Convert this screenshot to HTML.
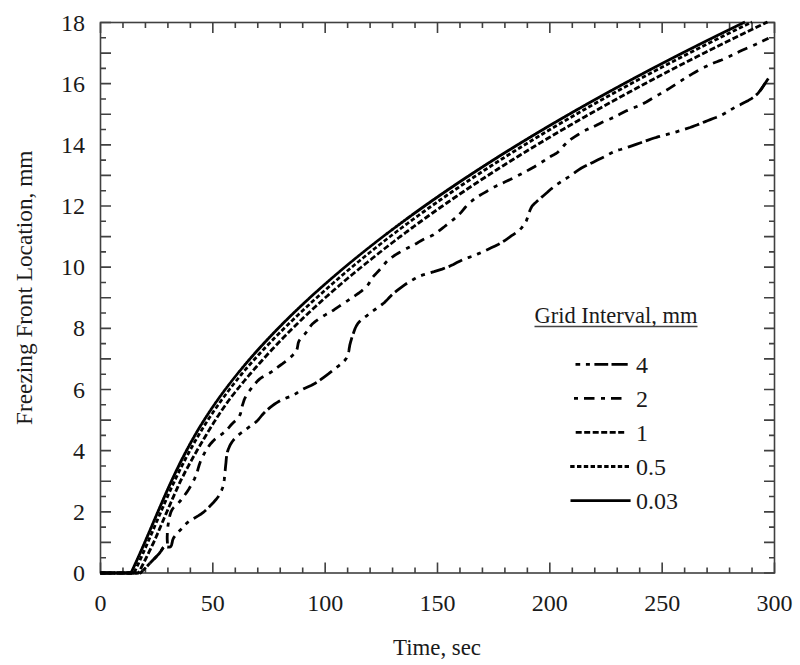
<!DOCTYPE html>
<html><head><meta charset="utf-8"><style>html,body{margin:0;padding:0;background:#fff;}svg{display:block;}</style></head>
<body><svg width="800" height="665" viewBox="0 0 800 665">
<rect width="800" height="665" fill="#fff"/>
<rect x="100.5" y="22.5" width="674.0" height="550.5" fill="none" stroke="#404040" stroke-width="1.6"/>
<path d="M100.50,573v-10.5M100.50,22.5v10.5M122.97,573v-5.5M122.97,22.5v5.5M145.43,573v-5.5M145.43,22.5v5.5M167.90,573v-5.5M167.90,22.5v5.5M190.37,573v-5.5M190.37,22.5v5.5M212.83,573v-10.5M212.83,22.5v10.5M235.30,573v-5.5M235.30,22.5v5.5M257.77,573v-5.5M257.77,22.5v5.5M280.23,573v-5.5M280.23,22.5v5.5M302.70,573v-5.5M302.70,22.5v5.5M325.17,573v-10.5M325.17,22.5v10.5M347.63,573v-5.5M347.63,22.5v5.5M370.10,573v-5.5M370.10,22.5v5.5M392.57,573v-5.5M392.57,22.5v5.5M415.03,573v-5.5M415.03,22.5v5.5M437.50,573v-10.5M437.50,22.5v10.5M459.97,573v-5.5M459.97,22.5v5.5M482.43,573v-5.5M482.43,22.5v5.5M504.90,573v-5.5M504.90,22.5v5.5M527.37,573v-5.5M527.37,22.5v5.5M549.83,573v-10.5M549.83,22.5v10.5M572.30,573v-5.5M572.30,22.5v5.5M594.77,573v-5.5M594.77,22.5v5.5M617.23,573v-5.5M617.23,22.5v5.5M639.70,573v-5.5M639.70,22.5v5.5M662.17,573v-10.5M662.17,22.5v10.5M684.63,573v-5.5M684.63,22.5v5.5M707.10,573v-5.5M707.10,22.5v5.5M729.57,573v-5.5M729.57,22.5v5.5M752.03,573v-5.5M752.03,22.5v5.5M774.50,573v-10.5M774.50,22.5v10.5M100.5,573.00h10.5M774.5,573.00h-10.5M100.5,557.71h5.5M774.5,557.71h-5.5M100.5,542.42h10.5M774.5,542.42h-10.5M100.5,527.12h5.5M774.5,527.12h-5.5M100.5,511.83h10.5M774.5,511.83h-10.5M100.5,496.54h5.5M774.5,496.54h-5.5M100.5,481.25h10.5M774.5,481.25h-10.5M100.5,465.96h5.5M774.5,465.96h-5.5M100.5,450.67h10.5M774.5,450.67h-10.5M100.5,435.38h5.5M774.5,435.38h-5.5M100.5,420.08h10.5M774.5,420.08h-10.5M100.5,404.79h5.5M774.5,404.79h-5.5M100.5,389.50h10.5M774.5,389.50h-10.5M100.5,374.21h5.5M774.5,374.21h-5.5M100.5,358.92h10.5M774.5,358.92h-10.5M100.5,343.62h5.5M774.5,343.62h-5.5M100.5,328.33h10.5M774.5,328.33h-10.5M100.5,313.04h5.5M774.5,313.04h-5.5M100.5,297.75h10.5M774.5,297.75h-10.5M100.5,282.46h5.5M774.5,282.46h-5.5M100.5,267.17h10.5M774.5,267.17h-10.5M100.5,251.88h5.5M774.5,251.88h-5.5M100.5,236.58h10.5M774.5,236.58h-10.5M100.5,221.29h5.5M774.5,221.29h-5.5M100.5,206.00h10.5M774.5,206.00h-10.5M100.5,190.71h5.5M774.5,190.71h-5.5M100.5,175.42h10.5M774.5,175.42h-10.5M100.5,160.12h5.5M774.5,160.12h-5.5M100.5,144.83h10.5M774.5,144.83h-10.5M100.5,129.54h5.5M774.5,129.54h-5.5M100.5,114.25h10.5M774.5,114.25h-10.5M100.5,98.96h5.5M774.5,98.96h-5.5M100.5,83.67h10.5M774.5,83.67h-10.5M100.5,68.38h5.5M774.5,68.38h-5.5M100.5,53.08h10.5M774.5,53.08h-10.5M100.5,37.79h5.5M774.5,37.79h-5.5M100.5,22.50h10.5M774.5,22.50h-10.5" stroke="#404040" stroke-width="1.6" fill="none"/>
<path d="M100.0,573.0 L140.5,573.0 L143.7,569.7 L147.0,566.3 L150.1,563.0 L153.0,560.0 L155.0,558.0 L156.8,556.1 L158.5,554.3 L160.0,552.5 L161.0,551.0 L161.9,549.4 L162.8,548.0 L164.0,547.0 L165.5,546.7 L167.3,547.0 L169.1,547.2 L170.5,546.8 L171.5,545.2 L172.1,542.9 L172.6,540.3 L173.6,537.8 L175.8,534.8 L178.7,531.7 L181.6,528.8 L184.0,526.4 L184.9,525.3 L185.6,524.4 L186.4,523.6 L187.4,522.6 L190.3,520.5 L194.2,518.2 L198.1,515.9 L201.5,513.7 L203.3,512.3 L204.9,511.0 L206.4,509.6 L208.0,508.0 L210.5,505.5 L213.2,502.7 L215.8,499.8 L218.0,497.0 L219.4,494.7 L220.7,492.3 L221.7,490.1 L222.5,488.0 L222.9,486.7 L223.3,485.6 L223.5,484.4 L223.8,483.0 L224.3,479.4 L224.7,475.0 L225.2,470.4 L225.6,466.0 L226.0,462.3 L226.3,458.7 L226.7,455.3 L227.4,452.0 L228.3,449.3 L229.4,446.7 L230.6,444.2 L232.0,442.0 L233.3,440.2 L234.8,438.6 L236.3,437.1 L238.0,435.5 L240.2,433.6 L242.7,431.8 L245.2,429.9 L247.7,428.1 L250.0,426.4 L252.3,424.8 L254.6,423.2 L256.7,421.4 L258.5,419.5 L260.1,417.5 L261.7,415.5 L263.5,413.5 L265.6,411.4 L267.9,409.4 L270.2,407.4 L272.5,405.6 L274.7,404.0 L276.9,402.6 L279.1,401.2 L281.5,399.9 L284.2,398.7 L287.1,397.6 L290.1,396.6 L292.8,395.4 L295.1,394.1 L297.3,392.7 L299.4,391.2 L301.8,389.8 L304.9,388.2 L308.2,386.7 L311.6,385.2 L314.8,383.5 L317.7,381.7 L320.6,379.7 L323.4,377.6 L326.1,375.6 L328.7,373.7 L331.2,371.7 L333.7,369.7 L336.2,367.7 L338.7,365.8 L341.1,363.9 L343.4,361.9 L345.3,359.8 L346.5,357.9 L347.3,355.9 L348.0,353.9 L348.6,351.9 L349.0,350.2 L349.2,348.6 L349.5,346.9 L349.8,345.1 L350.5,342.4 L351.3,339.6 L352.2,336.6 L353.2,333.8 L354.1,331.2 L355.1,328.5 L356.3,326.0 L357.7,323.7 L359.6,321.5 L361.9,319.5 L364.3,317.6 L366.7,315.8 L368.9,314.0 L371.2,312.3 L373.4,310.7 L375.7,309.0 L378.0,307.3 L380.3,305.7 L382.6,304.0 L384.7,302.3 L386.4,300.6 L388.0,298.9 L389.5,297.2 L391.3,295.4 L393.9,293.1 L396.9,290.7 L399.9,288.4 L402.6,286.4 L404.3,285.1 L405.9,284.0 L407.5,283.0 L409.3,281.9 L411.6,280.5 L414.1,279.0 L416.7,277.5 L419.5,276.2 L422.9,274.9 L426.6,273.9 L430.3,272.8 L434.1,271.7 L438.1,270.4 L442.1,269.1 L446.0,267.6 L449.9,266.1 L453.4,264.4 L456.9,262.6 L460.2,260.9 L463.5,259.3 L466.3,258.2 L469.1,257.3 L471.9,256.4 L474.7,255.3 L478.0,253.9 L481.4,252.4 L484.9,250.8 L488.3,249.2 L491.7,247.6 L495.2,245.9 L498.6,244.2 L501.8,242.4 L504.4,240.8 L506.9,239.1 L509.3,237.4 L511.6,235.7 L513.7,234.3 L515.7,233.0 L517.7,231.7 L519.5,230.1 L521.4,228.1 L523.2,225.8 L524.9,223.4 L526.2,221.1 L526.9,219.4 L527.5,217.7 L527.9,216.0 L528.5,214.3 L529.2,212.3 L530.0,210.2 L530.9,208.2 L531.9,206.4 L533.1,204.9 L534.5,203.5 L536.0,202.2 L537.5,200.8 L539.4,199.1 L541.4,197.4 L543.4,195.7 L545.4,194.0 L547.4,192.3 L549.3,190.5 L551.3,188.8 L553.3,187.2 L555.2,185.7 L557.2,184.3 L559.2,183.0 L561.2,181.6 L563.4,180.2 L565.6,178.8 L567.9,177.4 L570.2,175.9 L572.9,174.0 L575.7,171.9 L578.6,169.9 L581.5,168.0 L584.3,166.5 L587.1,165.1 L590.0,163.8 L592.8,162.4 L595.6,161.0 L598.5,159.6 L601.3,158.2 L604.1,156.8 L607.0,155.3 L609.8,153.8 L612.7,152.3 L615.3,151.1 L617.1,150.4 L618.8,149.9 L620.6,149.5 L622.5,148.9 L625.6,147.9 L628.9,146.8 L632.5,145.6 L636.0,144.4 L640.0,143.0 L644.1,141.5 L648.1,140.1 L651.8,138.8 L654.2,138.0 L656.4,137.4 L658.5,136.7 L660.8,136.1 L663.5,135.4 L666.2,134.7 L669.0,133.9 L672.0,133.1 L676.4,131.8 L681.1,130.4 L685.8,128.9 L690.0,127.5 L692.5,126.6 L694.6,125.8 L696.8,125.0 L699.0,124.1 L701.7,123.0 L704.6,121.9 L707.4,120.7 L710.3,119.6 L713.1,118.5 L715.9,117.5 L718.7,116.4 L721.5,115.1 L724.9,113.3 L728.4,111.2 L731.9,109.1 L735.0,107.3 L737.0,106.3 L738.7,105.4 L740.5,104.6 L742.4,103.6 L745.3,102.1 L748.4,100.4 L751.5,98.6 L754.1,96.8 L755.7,95.4 L757.2,94.1 L758.5,92.7 L759.7,91.2 L760.9,89.7 L761.9,88.2 L763.0,86.6 L764.0,85.0 L765.1,83.4 L766.2,81.8 L767.2,80.1 L768.3,78.5" fill="none" stroke="#000" stroke-width="2.8" stroke-linejoin="round" stroke-dasharray="15,4,15,6,4,6,4,6" stroke-dashoffset="0"/>
<path d="M759.7,91.2 L764,85 L768.3,78.5" fill="none" stroke="#000" stroke-width="2.8" stroke-linejoin="round"/>
<path d="M100.0,573.0 L140.5,573.0 L143.7,569.7 L147.0,566.3 L150.1,563.0 L153.0,560.0 L155.0,558.0 L156.8,556.1 L158.5,554.3 L160.0,552.5 L161.1,551.0 L162.1,549.5 L163.0,548.1 L164.0,547.0 L164.8,546.6 L165.6,546.3 L166.4,546.0 L167.0,545.5 L167.4,544.3 L167.4,542.6 L167.3,540.8 L167.2,539.0 L167.2,536.9 L167.3,534.7 L167.3,532.4 L167.5,530.0 L167.9,526.3 L168.5,522.3 L169.2,518.3 L170.0,515.0 L170.5,513.3 L171.0,511.8 L171.7,510.4 L172.5,509.0 L173.7,507.5 L175.2,506.1 L176.8,504.7 L178.5,503.0 L181.0,500.0 L183.7,496.4 L186.5,492.7 L188.9,489.0 L190.9,485.6 L192.8,482.1 L194.6,478.6 L196.1,475.1 L197.3,471.7 L198.2,468.3 L199.2,465.0 L200.4,461.6 L202.0,458.0 L203.8,454.4 L205.7,450.9 L207.7,447.7 L209.4,445.4 L211.1,443.2 L212.9,441.2 L214.9,439.3 L217.2,437.4 L219.7,435.7 L222.2,433.9 L224.5,432.1 L226.4,430.2 L228.2,428.3 L229.9,426.3 L231.7,424.3 L233.7,422.3 L235.9,420.3 L237.9,418.2 L239.5,416.0 L240.5,413.6 L241.1,411.1 L241.6,408.5 L242.2,406.0 L242.9,403.8 L243.6,401.6 L244.3,399.5 L245.3,397.4 L246.6,395.0 L248.2,392.6 L249.9,390.2 L251.7,387.9 L253.6,385.5 L255.5,383.2 L257.6,380.9 L259.8,378.9 L262.2,377.2 L264.7,375.8 L267.3,374.4 L269.7,373.0 L271.8,371.6 L273.8,370.1 L275.8,368.6 L277.8,367.1 L280.0,365.5 L282.3,363.9 L284.6,362.2 L286.9,360.4 L289.5,358.2 L292.2,355.7 L294.6,353.2 L296.5,350.6 L297.3,348.3 L297.7,346.0 L298.1,343.7 L298.7,341.6 L299.6,340.0 L300.7,338.6 L301.9,337.3 L303.0,336.0 L303.9,334.9 L304.9,333.9 L305.8,332.8 L306.8,331.6 L308.1,329.8 L309.4,327.7 L310.9,325.7 L312.6,323.7 L315.1,321.6 L318.0,319.5 L321.0,317.6 L323.8,315.8 L325.8,314.6 L327.8,313.5 L329.7,312.5 L331.7,311.3 L334.2,309.7 L336.8,307.9 L339.4,306.2 L341.9,304.5 L343.8,303.2 L345.6,302.0 L347.3,300.9 L349.2,299.6 L351.6,298.0 L354.0,296.4 L356.5,294.7 L358.9,293.0 L361.1,291.3 L363.3,289.5 L365.4,287.7 L367.3,285.7 L368.8,283.7 L370.0,281.6 L371.3,279.4 L372.7,277.3 L374.5,275.2 L376.5,273.1 L378.5,271.0 L380.5,268.9 L382.3,266.8 L384.0,264.6 L385.8,262.5 L387.7,260.5 L389.7,258.8 L391.8,257.3 L394.0,255.8 L396.2,254.4 L398.5,253.0 L401.0,251.6 L403.4,250.3 L405.8,249.0 L408.1,247.8 L410.3,246.7 L412.6,245.6 L414.8,244.4 L416.9,243.2 L419.0,241.9 L421.0,240.7 L423.2,239.5 L425.7,238.3 L428.3,237.2 L431.0,236.0 L433.5,234.7 L435.8,233.2 L438.1,231.5 L440.3,229.8 L442.5,228.1 L444.6,226.5 L446.7,224.8 L448.8,223.2 L450.9,221.5 L453.0,219.8 L455.2,218.0 L457.3,216.2 L459.3,214.3 L461.3,212.1 L463.2,209.8 L465.1,207.5 L467.1,205.3 L469.1,203.3 L471.2,201.5 L473.4,199.7 L475.6,198.0 L477.8,196.5 L480.0,195.2 L482.3,193.9 L484.6,192.6 L487.0,191.2 L489.3,189.7 L491.8,188.3 L494.3,186.9 L497.3,185.4 L500.5,184.0 L503.7,182.6 L506.9,181.1 L510.1,179.6 L513.2,178.0 L516.4,176.4 L519.6,174.7 L523.1,172.9 L526.8,171.0 L530.4,169.0 L534.0,167.0 L537.7,164.7 L541.5,162.3 L545.2,159.9 L548.6,157.7 L551.0,156.3 L553.3,155.1 L555.5,153.8 L557.7,152.3 L560.0,150.1 L562.2,147.6 L564.4,145.0 L566.7,142.7 L568.9,140.9 L571.1,139.2 L573.4,137.6 L575.7,136.1 L577.9,134.7 L580.2,133.3 L582.4,131.9 L584.7,130.7 L587.0,129.6 L589.3,128.5 L591.5,127.5 L593.8,126.5 L595.9,125.5 L597.9,124.4 L600.0,123.4 L602.2,122.3 L604.9,121.1 L607.7,119.9 L610.6,118.7 L613.5,117.4 L616.8,115.8 L620.1,114.1 L623.5,112.3 L627.0,110.6 L630.9,108.9 L634.9,107.3 L638.9,105.7 L642.8,103.9 L646.3,102.0 L649.6,100.0 L653.0,98.0 L656.3,96.0 L659.7,94.1 L663.0,92.1 L666.4,90.2 L669.8,88.1 L673.7,85.6 L677.7,83.0 L681.7,80.4 L685.5,78.0 L688.4,76.2 L691.1,74.6 L693.9,72.9 L696.8,71.3 L700.6,69.2 L704.7,67.1 L708.8,65.1 L712.5,63.4 L714.8,62.5 L717.0,61.7 L719.1,60.9 L721.5,60.0 L725.6,58.1 L730.3,55.9 L735.0,53.7 L739.4,51.6 L742.7,50.1 L745.7,48.8 L748.8,47.4 L752.0,46.0 L756.0,44.2 L760.1,42.2 L764.3,40.2 L768.5,38.2" fill="none" stroke="#000" stroke-width="2.8" stroke-linejoin="round" stroke-dasharray="10.5,6.5,4,6" stroke-dashoffset="0"/>
<path d="M100.5,573.0 L138.5,573.0 L139.0,572.0 L139.6,571.0 L140.1,570.0 L140.6,569.0 L141.1,568.0 L141.6,567.0 L142.1,566.0 L142.6,565.0 L143.1,564.0 L143.6,563.0 L144.1,562.0 L144.6,561.0 L145.1,560.0 L145.6,559.0 L146.1,558.0 L146.6,557.0 L147.1,556.0 L147.6,555.0 L148.1,554.0 L148.6,553.0 L149.0,552.0 L149.5,551.0 L150.0,550.0 L150.5,549.0 L151.0,548.0 L151.5,547.0 L151.9,546.0 L152.4,545.0 L152.9,544.0 L153.4,543.0 L153.9,542.0 L154.3,541.0 L154.8,540.0 L155.2,539.0 L155.7,538.0 L156.1,537.0 L156.5,536.0 L157.0,535.0 L157.4,534.0 L157.8,533.0 L158.3,532.0 L158.7,531.0 L159.1,530.0 L159.5,529.0 L160.0,528.0 L160.4,527.0 L160.8,526.0 L161.2,525.0 L161.7,524.0 L162.1,523.0 L162.5,522.0 L162.9,521.0 L163.4,520.0 L163.8,519.0 L164.2,518.0 L164.7,517.0 L165.1,516.0 L165.5,515.0 L165.9,514.0 L166.4,513.0 L166.8,512.0 L167.2,511.0 L167.7,510.0 L168.1,509.0 L168.5,508.0 L169.0,507.0 L169.4,506.0 L169.8,505.0 L170.3,504.0 L170.7,503.0 L171.1,502.0 L171.6,501.0 L172.0,500.0 L172.4,499.0 L172.9,498.0 L173.3,497.0 L173.8,496.0 L174.2,495.0 L174.6,494.0 L175.1,493.0 L175.5,492.0 L176.0,491.0 L176.4,490.0 L176.9,489.0 L177.3,488.0 L177.8,487.0 L178.2,486.0 L178.7,485.0 L179.1,484.0 L179.6,483.0 L180.1,482.0 L180.5,481.0 L181.0,480.0 L181.5,479.0 L182.0,478.0 L182.5,477.0 L183.1,476.0 L183.6,475.0 L184.1,474.0 L184.6,473.0 L185.1,472.0 L185.7,471.0 L186.2,470.0 L186.7,469.0 L187.3,468.0 L187.8,467.0 L188.4,466.0 L188.9,465.0 L189.4,464.0 L190.0,463.0 L190.5,462.0 L191.1,461.0 L191.6,460.0 L192.2,459.0 L192.7,458.0 L193.3,457.0 L193.9,456.0 L194.4,455.0 L195.0,454.0 L195.6,453.0 L196.2,452.0 L196.7,451.0 L197.3,450.0 L197.9,449.0 L198.5,448.0 L199.1,447.0 L199.7,446.0 L200.2,445.0 L200.8,444.0 L201.4,443.0 L202.0,442.0 L202.6,441.0 L203.3,440.0 L203.8,439.0 L204.4,438.0 L205.0,437.0 L205.6,436.0 L206.2,435.0 L206.8,434.0 L207.3,433.0 L207.9,432.0 L208.5,431.0 L209.2,430.0 L209.8,429.0 L210.4,428.0 L211.0,427.0 L211.6,426.0 L212.2,425.0 L212.9,424.0 L213.5,423.0 L214.1,422.0 L214.8,421.0 L215.4,420.0 L216.0,419.0 L216.7,418.0 L217.3,417.0 L218.0,416.0 L218.7,415.0 L219.3,414.0 L220.0,413.0 L220.7,412.0 L221.4,411.0 L222.0,410.0 L222.7,409.0 L223.4,408.0 L224.1,407.0 L224.8,406.0 L225.5,405.0 L226.2,404.0 L226.9,403.0 L227.6,402.0 L228.3,401.0 L229.1,400.0 L229.8,399.0 L230.6,398.0 L231.4,397.0 L232.1,396.0 L232.9,395.0 L233.7,394.0 L234.5,393.0 L235.3,392.0 L236.1,391.0 L236.8,390.0 L237.6,389.0 L238.5,388.0 L239.3,387.0 L240.1,386.0 L240.9,385.0 L241.7,384.0 L242.5,383.0 L243.4,382.0 L244.2,381.0 L245.0,380.0 L245.9,379.0 L246.7,378.0 L247.5,377.0 L248.4,376.0 L249.2,375.0 L250.1,374.0 L251.0,373.0 L251.8,372.0 L252.7,371.0 L253.6,370.0 L254.4,369.0 L255.3,368.0 L256.2,367.0 L257.1,366.0 L258.0,365.0 L258.9,364.0 L259.8,363.0 L260.7,362.0 L261.6,361.0 L262.5,360.0 L263.4,359.0 L264.3,358.0 L265.2,357.0 L266.1,356.0 L267.0,355.0 L267.9,354.0 L268.8,353.0 L269.8,352.0 L270.7,351.0 L271.6,350.0 L272.5,349.0 L273.5,348.0 L274.4,347.0 L275.4,346.0 L276.3,345.0 L277.3,344.0 L278.2,343.0 L279.2,342.0 L280.1,341.0 L281.1,340.0 L282.1,339.0 L283.0,338.0 L284.0,337.0 L285.0,336.0 L286.0,335.0 L287.0,334.0 L287.9,333.0 L288.9,332.0 L289.9,331.0 L290.9,330.0 L291.9,329.0 L293.0,328.0 L294.0,327.0 L295.0,326.0 L296.0,325.0 L297.0,324.0 L298.1,323.0 L299.1,322.0 L300.1,321.0 L301.2,320.0 L302.2,319.0 L303.2,318.0 L304.3,317.0 L305.3,316.0 L306.4,315.0 L307.5,314.0 L308.5,313.0 L309.6,312.0 L310.7,311.0 L311.7,310.0 L312.8,309.0 L313.9,308.0 L315.0,307.0 L316.1,306.0 L317.2,305.0 L318.3,304.0 L319.4,303.0 L320.5,302.0 L321.6,301.0 L322.7,300.0 L323.8,299.0 L324.9,298.0 L326.0,297.0 L327.2,296.0 L328.3,295.0 L329.4,294.0 L330.6,293.0 L331.7,292.0 L332.9,291.0 L334.0,290.0 L335.2,289.0 L336.3,288.0 L337.5,287.0 L338.7,286.0 L339.8,285.0 L341.0,284.0 L342.2,283.0 L343.4,282.0 L344.5,281.0 L345.7,280.0 L346.9,279.0 L348.1,278.0 L349.3,277.0 L350.5,276.0 L351.7,275.0 L352.9,274.0 L354.1,273.0 L355.4,272.0 L356.6,271.0 L357.8,270.0 L359.0,269.0 L360.2,268.0 L361.5,267.0 L362.7,266.0 L364.0,265.0 L365.2,264.0 L366.4,263.0 L367.7,262.0 L368.9,261.0 L370.2,260.0 L371.5,259.0 L372.7,258.0 L374.0,257.0 L375.2,256.0 L376.5,255.0 L377.8,254.0 L379.0,253.0 L380.3,252.0 L381.6,251.0 L382.8,250.0 L384.1,249.0 L385.4,248.0 L386.7,247.0 L388.0,246.0 L389.3,245.0 L390.6,244.0 L391.9,243.0 L393.2,242.0 L394.5,241.0 L395.8,240.0 L397.1,239.0 L398.4,238.0 L399.7,237.0 L401.1,236.0 L402.4,235.0 L403.7,234.0 L405.1,233.0 L406.4,232.0 L407.8,231.0 L409.1,230.0 L410.4,229.0 L411.8,228.0 L413.2,227.0 L414.5,226.0 L415.9,225.0 L417.2,224.0 L418.6,223.0 L420.0,222.0 L421.4,221.0 L422.8,220.0 L424.1,219.0 L425.5,218.0 L426.9,217.0 L428.3,216.0 L429.7,215.0 L431.1,214.0 L432.5,213.0 L433.9,212.0 L435.3,211.0 L436.8,210.0 L438.2,209.0 L439.6,208.0 L441.0,207.0 L442.5,206.0 L443.9,205.0 L445.3,204.0 L446.8,203.0 L448.2,202.0 L449.7,201.0 L451.1,200.0 L452.6,199.0 L454.0,198.0 L455.5,197.0 L457.0,196.0 L458.4,195.0 L459.9,194.0 L461.4,193.0 L462.9,192.0 L464.4,191.0 L465.8,190.0 L467.3,189.0 L468.8,188.0 L470.3,187.0 L471.8,186.0 L473.3,185.0 L474.8,184.0 L476.4,183.0 L477.9,182.0 L479.4,181.0 L480.9,180.0 L482.4,179.0 L484.0,178.0 L485.5,177.0 L487.0,176.0 L488.6,175.0 L490.1,174.0 L491.7,173.0 L493.2,172.0 L494.8,171.0 L496.4,170.0 L497.9,169.0 L499.5,168.0 L501.1,167.0 L502.7,166.0 L504.3,165.0 L505.8,164.0 L507.4,163.0 L509.0,162.0 L510.6,161.0 L512.2,160.0 L513.8,159.0 L515.4,158.0 L517.1,157.0 L518.7,156.0 L520.3,155.0 L521.9,154.0 L523.5,153.0 L525.2,152.0 L526.8,151.0 L528.4,150.0 L530.1,149.0 L531.7,148.0 L533.4,147.0 L535.0,146.0 L536.7,145.0 L538.3,144.0 L540.0,143.0 L541.7,142.0 L543.3,141.0 L545.0,140.0 L546.7,139.0 L548.4,138.0 L550.1,137.0 L551.7,136.0 L553.4,135.0 L555.1,134.0 L556.8,133.0 L558.5,132.0 L560.2,131.0 L561.9,130.0 L563.7,129.0 L565.4,128.0 L567.1,127.0 L568.8,126.0 L570.5,125.0 L572.3,124.0 L574.0,123.0 L575.7,122.0 L577.5,121.0 L579.2,120.0 L581.0,119.0 L582.7,118.0 L584.5,117.0 L586.2,116.0 L588.0,115.0 L589.8,114.0 L591.5,113.0 L593.3,112.0 L595.1,111.0 L596.9,110.0 L598.7,109.0 L600.5,108.0 L602.2,107.0 L604.0,106.0 L605.8,105.0 L607.6,104.0 L609.4,103.0 L611.3,102.0 L613.1,101.0 L614.9,100.0 L616.7,99.0 L618.5,98.0 L620.3,97.0 L622.2,96.0 L624.0,95.0 L625.8,94.0 L627.7,93.0 L629.5,92.0 L631.4,91.0 L633.2,90.0 L635.1,89.0 L636.9,88.0 L638.8,87.0 L640.6,86.0 L642.5,85.0 L644.4,84.0 L646.3,83.0 L648.1,82.0 L650.0,81.0 L651.9,80.0 L653.8,79.0 L655.7,78.0 L657.6,77.0 L659.5,76.0 L661.4,75.0 L663.3,74.0 L665.2,73.0 L667.1,72.0 L669.0,71.0 L671.0,70.0 L672.9,69.0 L674.8,68.0 L676.7,67.0 L678.7,66.0 L680.6,65.0 L682.6,64.0 L684.5,63.0 L686.5,62.0 L688.4,61.0 L690.4,60.0 L692.3,59.0 L694.3,58.0 L696.3,57.0 L698.2,56.0 L700.2,55.0 L702.2,54.0 L704.2,53.0 L706.2,52.0 L708.2,51.0 L710.2,50.0 L712.2,49.0 L714.2,48.0 L716.2,47.0 L718.2,46.0 L720.2,45.0 L722.2,44.0 L724.2,43.0 L726.2,42.0 L728.3,41.0 L730.3,40.0 L732.3,39.0 L734.4,38.0 L736.4,37.0 L738.5,36.0 L740.5,35.0 L742.6,34.0 L744.6,33.0 L746.7,32.0 L748.8,31.0 L750.8,30.0 L752.9,29.0 L755.0,28.0 L757.0,27.0 L759.1,26.0 L761.2,25.0 L763.3,24.0 L765.4,23.0 L767.5,22.0" fill="none" stroke="#000" stroke-width="2.8" stroke-linejoin="round" stroke-dasharray="6,2.5" stroke-dashoffset="0"/>
<path d="M100.5,573.0 L134.0,573.0 L134.5,572.0 L135.0,571.0 L135.4,570.0 L135.9,569.0 L136.4,568.0 L136.8,567.0 L137.3,566.0 L137.7,565.0 L138.2,564.0 L138.7,563.0 L139.1,562.0 L139.6,561.0 L140.0,560.0 L140.5,559.0 L140.9,558.0 L141.4,557.0 L141.8,556.0 L142.3,555.0 L142.7,554.0 L143.1,553.0 L143.6,552.0 L144.0,551.0 L144.5,550.0 L144.9,549.0 L145.3,548.0 L145.8,547.0 L146.2,546.0 L146.7,545.0 L147.1,544.0 L147.5,543.0 L148.0,542.0 L148.4,541.0 L148.8,540.0 L149.2,539.0 L149.7,538.0 L150.1,537.0 L150.5,536.0 L151.0,535.0 L151.4,534.0 L151.8,533.0 L152.3,532.0 L152.7,531.0 L153.1,530.0 L153.5,529.0 L154.0,528.0 L154.4,527.0 L154.8,526.0 L155.2,525.0 L155.7,524.0 L156.1,523.0 L156.5,522.0 L156.9,521.0 L157.4,520.0 L157.8,519.0 L158.2,518.0 L158.7,517.0 L159.1,516.0 L159.5,515.0 L159.9,514.0 L160.4,513.0 L160.8,512.0 L161.2,511.0 L161.7,510.0 L162.1,509.0 L162.5,508.0 L163.0,507.0 L163.4,506.0 L163.8,505.0 L164.3,504.0 L164.7,503.0 L165.1,502.0 L165.6,501.0 L166.0,500.0 L166.4,499.0 L166.9,498.0 L167.3,497.0 L167.8,496.0 L168.2,495.0 L168.6,494.0 L169.1,493.0 L169.5,492.0 L170.0,491.0 L170.4,490.0 L170.9,489.0 L171.3,488.0 L171.8,487.0 L172.2,486.0 L172.7,485.0 L173.1,484.0 L173.6,483.0 L174.1,482.0 L174.5,481.0 L175.0,480.0 L175.5,479.0 L175.9,478.0 L176.4,477.0 L176.9,476.0 L177.4,475.0 L177.9,474.0 L178.4,473.0 L178.9,472.0 L179.3,471.0 L179.8,470.0 L180.3,469.0 L180.8,468.0 L181.3,467.0 L181.8,466.0 L182.3,465.0 L182.9,464.0 L183.4,463.0 L183.9,462.0 L184.4,461.0 L184.9,460.0 L185.4,459.0 L185.9,458.0 L186.5,457.0 L187.0,456.0 L187.5,455.0 L188.1,454.0 L188.6,453.0 L189.1,452.0 L189.7,451.0 L190.2,450.0 L190.8,449.0 L191.3,448.0 L191.9,447.0 L192.4,446.0 L193.0,445.0 L193.5,444.0 L194.1,443.0 L194.6,442.0 L195.2,441.0 L195.8,440.0 L196.4,439.0 L196.9,438.0 L197.5,437.0 L198.1,436.0 L198.7,435.0 L199.3,434.0 L199.9,433.0 L200.5,432.0 L201.1,431.0 L201.7,430.0 L202.3,429.0 L202.9,428.0 L203.5,427.0 L204.2,426.0 L204.8,425.0 L205.4,424.0 L206.0,423.0 L206.7,422.0 L207.3,421.0 L208.0,420.0 L208.6,419.0 L209.2,418.0 L209.9,417.0 L210.6,416.0 L211.2,415.0 L211.9,414.0 L212.6,413.0 L213.2,412.0 L213.9,411.0 L214.6,410.0 L215.3,409.0 L216.0,408.0 L216.7,407.0 L217.4,406.0 L218.1,405.0 L218.8,404.0 L219.5,403.0 L220.2,402.0 L220.9,401.0 L221.6,400.0 L222.4,399.0 L223.1,398.0 L223.8,397.0 L224.6,396.0 L225.3,395.0 L226.1,394.0 L226.8,393.0 L227.6,392.0 L228.3,391.0 L229.1,390.0 L229.8,389.0 L230.6,388.0 L231.4,387.0 L232.1,386.0 L232.9,385.0 L233.7,384.0 L234.5,383.0 L235.3,382.0 L236.1,381.0 L236.9,380.0 L237.7,379.0 L238.5,378.0 L239.3,377.0 L240.1,376.0 L240.9,375.0 L241.8,374.0 L242.6,373.0 L243.4,372.0 L244.2,371.0 L245.1,370.0 L245.9,369.0 L246.8,368.0 L247.7,367.0 L248.5,366.0 L249.4,365.0 L250.3,364.0 L251.2,363.0 L252.1,362.0 L253.0,361.0 L253.9,360.0 L254.8,359.0 L255.7,358.0 L256.6,357.0 L257.5,356.0 L258.4,355.0 L259.3,354.0 L260.2,353.0 L261.2,352.0 L262.1,351.0 L263.0,350.0 L264.0,349.0 L264.9,348.0 L265.9,347.0 L266.8,346.0 L267.8,345.0 L268.7,344.0 L269.7,343.0 L270.6,342.0 L271.6,341.0 L272.6,340.0 L273.5,339.0 L274.5,338.0 L275.5,337.0 L276.5,336.0 L277.5,335.0 L278.5,334.0 L279.5,333.0 L280.5,332.0 L281.5,331.0 L282.5,330.0 L283.5,329.0 L284.5,328.0 L285.5,327.0 L286.5,326.0 L287.6,325.0 L288.6,324.0 L289.6,323.0 L290.7,322.0 L291.7,321.0 L292.8,320.0 L293.8,319.0 L294.8,318.0 L295.9,317.0 L296.9,316.0 L298.0,315.0 L299.0,314.0 L300.1,313.0 L301.1,312.0 L302.2,311.0 L303.3,310.0 L304.3,309.0 L305.4,308.0 L306.5,307.0 L307.6,306.0 L308.7,305.0 L309.7,304.0 L310.8,303.0 L311.9,302.0 L313.0,301.0 L314.1,300.0 L315.2,299.0 L316.4,298.0 L317.5,297.0 L318.6,296.0 L319.7,295.0 L320.8,294.0 L322.0,293.0 L323.1,292.0 L324.2,291.0 L325.4,290.0 L326.5,289.0 L327.6,288.0 L328.7,287.0 L329.9,286.0 L331.0,285.0 L332.1,284.0 L333.3,283.0 L334.4,282.0 L335.6,281.0 L336.7,280.0 L337.9,279.0 L339.0,278.0 L340.2,277.0 L341.4,276.0 L342.5,275.0 L343.7,274.0 L344.9,273.0 L346.1,272.0 L347.2,271.0 L348.4,270.0 L349.6,269.0 L350.8,268.0 L352.0,267.0 L353.2,266.0 L354.4,265.0 L355.6,264.0 L356.8,263.0 L358.0,262.0 L359.3,261.0 L360.5,260.0 L361.7,259.0 L362.9,258.0 L364.2,257.0 L365.4,256.0 L366.6,255.0 L367.9,254.0 L369.1,253.0 L370.4,252.0 L371.6,251.0 L372.9,250.0 L374.1,249.0 L375.4,248.0 L376.7,247.0 L377.9,246.0 L379.2,245.0 L380.5,244.0 L381.8,243.0 L383.0,242.0 L384.3,241.0 L385.6,240.0 L386.9,239.0 L388.2,238.0 L389.5,237.0 L390.8,236.0 L392.1,235.0 L393.4,234.0 L394.8,233.0 L396.1,232.0 L397.4,231.0 L398.7,230.0 L400.1,229.0 L401.4,228.0 L402.7,227.0 L404.1,226.0 L405.4,225.0 L406.8,224.0 L408.1,223.0 L409.5,222.0 L410.8,221.0 L412.2,220.0 L413.5,219.0 L414.9,218.0 L416.3,217.0 L417.7,216.0 L419.0,215.0 L420.4,214.0 L421.8,213.0 L423.2,212.0 L424.6,211.0 L426.0,210.0 L427.4,209.0 L428.8,208.0 L430.2,207.0 L431.6,206.0 L433.0,205.0 L434.4,204.0 L435.9,203.0 L437.3,202.0 L438.7,201.0 L440.1,200.0 L441.6,199.0 L443.0,198.0 L444.5,197.0 L445.9,196.0 L447.3,195.0 L448.8,194.0 L450.3,193.0 L451.7,192.0 L453.2,191.0 L454.6,190.0 L456.1,189.0 L457.6,188.0 L459.1,187.0 L460.6,186.0 L462.0,185.0 L463.5,184.0 L465.0,183.0 L466.5,182.0 L468.0,181.0 L469.5,180.0 L471.0,179.0 L472.5,178.0 L474.0,177.0 L475.6,176.0 L477.1,175.0 L478.6,174.0 L480.1,173.0 L481.7,172.0 L483.2,171.0 L484.7,170.0 L486.3,169.0 L487.8,168.0 L489.4,167.0 L490.9,166.0 L492.5,165.0 L494.0,164.0 L495.6,163.0 L497.2,162.0 L498.7,161.0 L500.3,160.0 L501.9,159.0 L503.5,158.0 L505.0,157.0 L506.6,156.0 L508.2,155.0 L509.8,154.0 L511.4,153.0 L513.0,152.0 L514.6,151.0 L516.2,150.0 L517.9,149.0 L519.5,148.0 L521.1,147.0 L522.7,146.0 L524.3,145.0 L526.0,144.0 L527.6,143.0 L529.2,142.0 L530.9,141.0 L532.5,140.0 L534.2,139.0 L535.8,138.0 L537.5,137.0 L539.1,136.0 L540.8,135.0 L542.5,134.0 L544.1,133.0 L545.8,132.0 L547.5,131.0 L549.2,130.0 L550.9,129.0 L552.5,128.0 L554.2,127.0 L555.9,126.0 L557.6,125.0 L559.3,124.0 L561.0,123.0 L562.8,122.0 L564.5,121.0 L566.2,120.0 L567.9,119.0 L569.6,118.0 L571.4,117.0 L573.1,116.0 L574.8,115.0 L576.6,114.0 L578.3,113.0 L580.0,112.0 L581.8,111.0 L583.5,110.0 L585.3,109.0 L587.1,108.0 L588.8,107.0 L590.6,106.0 L592.4,105.0 L594.1,104.0 L595.9,103.0 L597.7,102.0 L599.5,101.0 L601.3,100.0 L603.1,99.0 L604.9,98.0 L606.7,97.0 L608.5,96.0 L610.3,95.0 L612.1,94.0 L613.9,93.0 L615.7,92.0 L617.5,91.0 L619.4,90.0 L621.2,89.0 L623.0,88.0 L624.9,87.0 L626.7,86.0 L628.5,85.0 L630.4,84.0 L632.2,83.0 L634.1,82.0 L636.0,81.0 L637.8,80.0 L639.7,79.0 L641.5,78.0 L643.4,77.0 L645.3,76.0 L647.2,75.0 L649.1,74.0 L650.9,73.0 L652.8,72.0 L654.7,71.0 L656.6,70.0 L658.5,69.0 L660.4,68.0 L662.3,67.0 L664.3,66.0 L666.2,65.0 L668.1,64.0 L670.0,63.0 L671.9,62.0 L673.9,61.0 L675.8,60.0 L677.7,59.0 L679.7,58.0 L681.6,57.0 L683.6,56.0 L685.5,55.0 L687.5,54.0 L689.4,53.0 L691.4,52.0 L693.4,51.0 L695.3,50.0 L697.3,49.0 L699.3,48.0 L701.3,47.0 L703.3,46.0 L705.2,45.0 L707.2,44.0 L709.2,43.0 L711.2,42.0 L713.2,41.0 L715.2,40.0 L717.3,39.0 L719.3,38.0 L721.3,37.0 L723.3,36.0 L725.3,35.0 L727.4,34.0 L729.4,33.0 L731.4,32.0 L733.5,31.0 L735.5,30.0 L737.6,29.0 L739.6,28.0 L741.7,27.0 L743.7,26.0 L745.8,25.0 L747.9,24.0 L749.9,23.0 L752.0,22.0" fill="none" stroke="#000" stroke-width="2.8" stroke-linejoin="round" stroke-dasharray="4.4,2.4" stroke-dashoffset="0"/>
<path d="M100.5,573.0 L131.0,573.0 L131.5,572.0 L132.0,571.0 L132.4,570.0 L132.9,569.0 L133.4,568.0 L133.8,567.0 L134.3,566.0 L134.7,565.0 L135.2,564.0 L135.7,563.0 L136.1,562.0 L136.6,561.0 L137.0,560.0 L137.5,559.0 L137.9,558.0 L138.4,557.0 L138.8,556.0 L139.3,555.0 L139.7,554.0 L140.1,553.0 L140.6,552.0 L141.0,551.0 L141.5,550.0 L141.9,549.0 L142.3,548.0 L142.8,547.0 L143.2,546.0 L143.7,545.0 L144.1,544.0 L144.5,543.0 L145.0,542.0 L145.4,541.0 L145.8,540.0 L146.2,539.0 L146.7,538.0 L147.1,537.0 L147.5,536.0 L148.0,535.0 L148.4,534.0 L148.8,533.0 L149.3,532.0 L149.7,531.0 L150.1,530.0 L150.5,529.0 L151.0,528.0 L151.4,527.0 L151.8,526.0 L152.2,525.0 L152.7,524.0 L153.1,523.0 L153.5,522.0 L153.9,521.0 L154.4,520.0 L154.8,519.0 L155.2,518.0 L155.7,517.0 L156.1,516.0 L156.5,515.0 L156.9,514.0 L157.4,513.0 L157.8,512.0 L158.2,511.0 L158.7,510.0 L159.1,509.0 L159.5,508.0 L160.0,507.0 L160.4,506.0 L160.8,505.0 L161.3,504.0 L161.7,503.0 L162.1,502.0 L162.6,501.0 L163.0,500.0 L163.4,499.0 L163.9,498.0 L164.3,497.0 L164.8,496.0 L165.2,495.0 L165.6,494.0 L166.1,493.0 L166.5,492.0 L167.0,491.0 L167.4,490.0 L167.9,489.0 L168.3,488.0 L168.8,487.0 L169.2,486.0 L169.7,485.0 L170.1,484.0 L170.6,483.0 L171.1,482.0 L171.5,481.0 L172.0,480.0 L172.4,479.0 L172.9,478.0 L173.4,477.0 L173.9,476.0 L174.3,475.0 L174.8,474.0 L175.3,473.0 L175.7,472.0 L176.2,471.0 L176.7,470.0 L177.2,469.0 L177.7,468.0 L178.2,467.0 L178.7,466.0 L179.1,465.0 L179.6,464.0 L180.1,463.0 L180.6,462.0 L181.1,461.0 L181.6,460.0 L182.1,459.0 L182.6,458.0 L183.2,457.0 L183.7,456.0 L184.2,455.0 L184.7,454.0 L185.2,453.0 L185.8,452.0 L186.3,451.0 L186.8,450.0 L187.3,449.0 L187.9,448.0 L188.4,447.0 L189.0,446.0 L189.5,445.0 L190.0,444.0 L190.6,443.0 L191.1,442.0 L191.7,441.0 L192.3,440.0 L192.8,439.0 L193.4,438.0 L194.0,437.0 L194.5,436.0 L195.1,435.0 L195.7,434.0 L196.3,433.0 L196.8,432.0 L197.4,431.0 L198.0,430.0 L198.6,429.0 L199.2,428.0 L199.8,427.0 L200.4,426.0 L201.0,425.0 L201.7,424.0 L202.3,423.0 L202.9,422.0 L203.5,421.0 L204.2,420.0 L204.8,419.0 L205.4,418.0 L206.1,417.0 L206.7,416.0 L207.4,415.0 L208.0,414.0 L208.7,413.0 L209.3,412.0 L210.0,411.0 L210.7,410.0 L211.3,409.0 L212.0,408.0 L212.7,407.0 L213.4,406.0 L214.1,405.0 L214.8,404.0 L215.4,403.0 L216.1,402.0 L216.9,401.0 L217.6,400.0 L218.3,399.0 L219.0,398.0 L219.7,397.0 L220.4,396.0 L221.2,395.0 L221.9,394.0 L222.6,393.0 L223.4,392.0 L224.1,391.0 L224.8,390.0 L225.6,389.0 L226.4,388.0 L227.1,387.0 L227.9,386.0 L228.6,385.0 L229.4,384.0 L230.2,383.0 L231.0,382.0 L231.7,381.0 L232.5,380.0 L233.3,379.0 L234.1,378.0 L234.9,377.0 L235.7,376.0 L236.5,375.0 L237.3,374.0 L238.1,373.0 L238.9,372.0 L239.8,371.0 L240.6,370.0 L241.4,369.0 L242.2,368.0 L243.1,367.0 L243.9,366.0 L244.7,365.0 L245.6,364.0 L246.4,363.0 L247.3,362.0 L248.1,361.0 L249.0,360.0 L249.9,359.0 L250.7,358.0 L251.6,357.0 L252.5,356.0 L253.4,355.0 L254.2,354.0 L255.1,353.0 L256.0,352.0 L256.9,351.0 L257.8,350.0 L258.7,349.0 L259.6,348.0 L260.5,347.0 L261.4,346.0 L262.4,345.0 L263.3,344.0 L264.2,343.0 L265.1,342.0 L266.1,341.0 L267.0,340.0 L267.9,339.0 L268.9,338.0 L269.8,337.0 L270.8,336.0 L271.7,335.0 L272.7,334.0 L273.6,333.0 L274.6,332.0 L275.6,331.0 L276.5,330.0 L277.5,329.0 L278.5,328.0 L279.5,327.0 L280.5,326.0 L281.5,325.0 L282.4,324.0 L283.4,323.0 L284.4,322.0 L285.4,321.0 L286.5,320.0 L287.5,319.0 L288.5,318.0 L289.5,317.0 L290.5,316.0 L291.5,315.0 L292.6,314.0 L293.6,313.0 L294.6,312.0 L295.7,311.0 L296.7,310.0 L297.8,309.0 L298.8,308.0 L299.9,307.0 L300.9,306.0 L302.0,305.0 L303.1,304.0 L304.1,303.0 L305.2,302.0 L306.3,301.0 L307.4,300.0 L308.5,299.0 L309.5,298.0 L310.6,297.0 L311.7,296.0 L312.8,295.0 L313.9,294.0 L315.0,293.0 L316.1,292.0 L317.3,291.0 L318.4,290.0 L319.5,289.0 L320.6,288.0 L321.7,287.0 L322.9,286.0 L324.0,285.0 L325.1,284.0 L326.3,283.0 L327.4,282.0 L328.6,281.0 L329.7,280.0 L330.9,279.0 L332.0,278.0 L333.2,277.0 L334.4,276.0 L335.5,275.0 L336.7,274.0 L337.9,273.0 L339.1,272.0 L340.2,271.0 L341.4,270.0 L342.6,269.0 L343.8,268.0 L345.0,267.0 L346.2,266.0 L347.4,265.0 L348.6,264.0 L349.8,263.0 L351.0,262.0 L352.3,261.0 L353.5,260.0 L354.7,259.0 L355.9,258.0 L357.2,257.0 L358.4,256.0 L359.6,255.0 L360.9,254.0 L362.1,253.0 L363.4,252.0 L364.6,251.0 L365.9,250.0 L367.1,249.0 L368.4,248.0 L369.7,247.0 L370.9,246.0 L372.2,245.0 L373.5,244.0 L374.8,243.0 L376.0,242.0 L377.3,241.0 L378.6,240.0 L379.9,239.0 L381.2,238.0 L382.5,237.0 L383.8,236.0 L385.1,235.0 L386.4,234.0 L387.8,233.0 L389.1,232.0 L390.4,231.0 L391.7,230.0 L393.1,229.0 L394.4,228.0 L395.7,227.0 L397.1,226.0 L398.4,225.0 L399.8,224.0 L401.1,223.0 L402.5,222.0 L403.8,221.0 L405.2,220.0 L406.5,219.0 L407.9,218.0 L409.3,217.0 L410.7,216.0 L412.0,215.0 L413.4,214.0 L414.8,213.0 L416.2,212.0 L417.6,211.0 L419.0,210.0 L420.4,209.0 L421.8,208.0 L423.2,207.0 L424.6,206.0 L426.0,205.0 L427.4,204.0 L428.9,203.0 L430.3,202.0 L431.7,201.0 L433.1,200.0 L434.6,199.0 L436.0,198.0 L437.5,197.0 L438.9,196.0 L440.3,195.0 L441.8,194.0 L443.3,193.0 L444.7,192.0 L446.2,191.0 L447.6,190.0 L449.1,189.0 L450.6,188.0 L452.1,187.0 L453.6,186.0 L455.0,185.0 L456.5,184.0 L458.0,183.0 L459.5,182.0 L461.0,181.0 L462.5,180.0 L464.0,179.0 L465.5,178.0 L467.0,177.0 L468.6,176.0 L470.1,175.0 L471.6,174.0 L473.1,173.0 L474.7,172.0 L476.2,171.0 L477.7,170.0 L479.3,169.0 L480.8,168.0 L482.4,167.0 L483.9,166.0 L485.5,165.0 L487.0,164.0 L488.6,163.0 L490.2,162.0 L491.7,161.0 L493.3,160.0 L494.9,159.0 L496.5,158.0 L498.0,157.0 L499.6,156.0 L501.2,155.0 L502.8,154.0 L504.4,153.0 L506.0,152.0 L507.6,151.0 L509.2,150.0 L510.9,149.0 L512.5,148.0 L514.1,147.0 L515.7,146.0 L517.3,145.0 L519.0,144.0 L520.6,143.0 L522.2,142.0 L523.9,141.0 L525.5,140.0 L527.2,139.0 L528.8,138.0 L530.5,137.0 L532.1,136.0 L533.8,135.0 L535.5,134.0 L537.1,133.0 L538.8,132.0 L540.5,131.0 L542.2,130.0 L543.9,129.0 L545.5,128.0 L547.2,127.0 L548.9,126.0 L550.6,125.0 L552.3,124.0 L554.0,123.0 L555.8,122.0 L557.5,121.0 L559.2,120.0 L560.9,119.0 L562.6,118.0 L564.4,117.0 L566.1,116.0 L567.8,115.0 L569.6,114.0 L571.3,113.0 L573.0,112.0 L574.8,111.0 L576.5,110.0 L578.3,109.0 L580.1,108.0 L581.8,107.0 L583.6,106.0 L585.4,105.0 L587.1,104.0 L588.9,103.0 L590.7,102.0 L592.5,101.0 L594.3,100.0 L596.1,99.0 L597.9,98.0 L599.7,97.0 L601.5,96.0 L603.3,95.0 L605.1,94.0 L606.9,93.0 L608.7,92.0 L610.5,91.0 L612.4,90.0 L614.2,89.0 L616.0,88.0 L617.9,87.0 L619.7,86.0 L621.5,85.0 L623.4,84.0 L625.2,83.0 L627.1,82.0 L629.0,81.0 L630.8,80.0 L632.7,79.0 L634.5,78.0 L636.4,77.0 L638.3,76.0 L640.2,75.0 L642.1,74.0 L643.9,73.0 L645.8,72.0 L647.7,71.0 L649.6,70.0 L651.5,69.0 L653.4,68.0 L655.3,67.0 L657.3,66.0 L659.2,65.0 L661.1,64.0 L663.0,63.0 L664.9,62.0 L666.9,61.0 L668.8,60.0 L670.7,59.0 L672.7,58.0 L674.6,57.0 L676.6,56.0 L678.5,55.0 L680.5,54.0 L682.4,53.0 L684.4,52.0 L686.4,51.0 L688.3,50.0 L690.3,49.0 L692.3,48.0 L694.3,47.0 L696.3,46.0 L698.2,45.0 L700.2,44.0 L702.2,43.0 L704.2,42.0 L706.2,41.0 L708.2,40.0 L710.3,39.0 L712.3,38.0 L714.3,37.0 L716.3,36.0 L718.3,35.0 L720.4,34.0 L722.4,33.0 L724.4,32.0 L726.5,31.0 L728.5,30.0 L730.6,29.0 L732.6,28.0 L734.7,27.0 L736.7,26.0 L738.8,25.0 L740.9,24.0 L742.9,23.0 L745.0,22.0" fill="none" stroke="#000" stroke-width="2.8" stroke-linejoin="round"/>
<text x="100.5" y="610.5" font-family="Liberation Serif" fill="#1a1a1a" font-size="24" text-anchor="middle">0</text>
<text x="212.8" y="610.5" font-family="Liberation Serif" fill="#1a1a1a" font-size="24" text-anchor="middle">50</text>
<text x="325.2" y="610.5" font-family="Liberation Serif" fill="#1a1a1a" font-size="24" text-anchor="middle">100</text>
<text x="437.5" y="610.5" font-family="Liberation Serif" fill="#1a1a1a" font-size="24" text-anchor="middle">150</text>
<text x="549.8" y="610.5" font-family="Liberation Serif" fill="#1a1a1a" font-size="24" text-anchor="middle">200</text>
<text x="662.2" y="610.5" font-family="Liberation Serif" fill="#1a1a1a" font-size="24" text-anchor="middle">250</text>
<text x="774.5" y="610.5" font-family="Liberation Serif" fill="#1a1a1a" font-size="24" text-anchor="middle">300</text>
<text x="85" y="581.0" font-family="Liberation Serif" fill="#1a1a1a" font-size="24" text-anchor="end">0</text>
<text x="85" y="519.8" font-family="Liberation Serif" fill="#1a1a1a" font-size="24" text-anchor="end">2</text>
<text x="85" y="458.7" font-family="Liberation Serif" fill="#1a1a1a" font-size="24" text-anchor="end">4</text>
<text x="85" y="397.5" font-family="Liberation Serif" fill="#1a1a1a" font-size="24" text-anchor="end">6</text>
<text x="85" y="336.3" font-family="Liberation Serif" fill="#1a1a1a" font-size="24" text-anchor="end">8</text>
<text x="85" y="275.2" font-family="Liberation Serif" fill="#1a1a1a" font-size="24" text-anchor="end">10</text>
<text x="85" y="214.0" font-family="Liberation Serif" fill="#1a1a1a" font-size="24" text-anchor="end">12</text>
<text x="85" y="152.8" font-family="Liberation Serif" fill="#1a1a1a" font-size="24" text-anchor="end">14</text>
<text x="85" y="91.7" font-family="Liberation Serif" fill="#1a1a1a" font-size="24" text-anchor="end">16</text>
<text x="85" y="30.5" font-family="Liberation Serif" fill="#1a1a1a" font-size="24" text-anchor="end">18</text>
<text x="393" y="654.5" font-family="Liberation Serif" fill="#1a1a1a" font-size="23.5" textLength="88" lengthAdjust="spacingAndGlyphs">Time, sec</text>
<text transform="translate(31.5,425) rotate(-90)" x="0" y="0" font-family="Liberation Serif" fill="#1a1a1a" font-size="23.5" textLength="274.5" lengthAdjust="spacingAndGlyphs">Freezing Front Location, mm</text>
<text x="534.5" y="323" font-family="Liberation Serif" fill="#1a1a1a" font-size="23.5" textLength="163" lengthAdjust="spacingAndGlyphs">Grid Interval, mm</text>
<path d="M534.5,326.5H697.5" stroke="#444" stroke-width="1.3"/>
<path d="M575.5,364.3H580.2M585.9,364.3H589.9M594.4,364.3H608.2M611.5,364.3H627.7" stroke="#000" stroke-width="2.8"/>
<text x="636" y="372.6" font-family="Liberation Serif" fill="#1a1a1a" font-size="24">4</text>
<path d="M574,398.4H622" stroke="#000" stroke-width="2.8" stroke-dasharray="4,6,10.5,6.5"/>
<text x="636" y="406.7" font-family="Liberation Serif" fill="#1a1a1a" font-size="24">2</text>
<path d="M575.7,432.4H626.1" stroke="#000" stroke-width="2.8" stroke-dasharray="6,2.5"/>
<text x="636" y="440.7" font-family="Liberation Serif" fill="#1a1a1a" font-size="24">1</text>
<path d="M570.2,466.5H629.3" stroke="#000" stroke-width="2.8" stroke-dasharray="4.4,2.4"/>
<text x="636" y="474.8" font-family="Liberation Serif" fill="#1a1a1a" font-size="24">0.5</text>
<path d="M570.5,500.6H630.6" stroke="#000" stroke-width="2.8"/>
<text x="636" y="508.9" font-family="Liberation Serif" fill="#1a1a1a" font-size="24">0.03</text>
</svg></body></html>
